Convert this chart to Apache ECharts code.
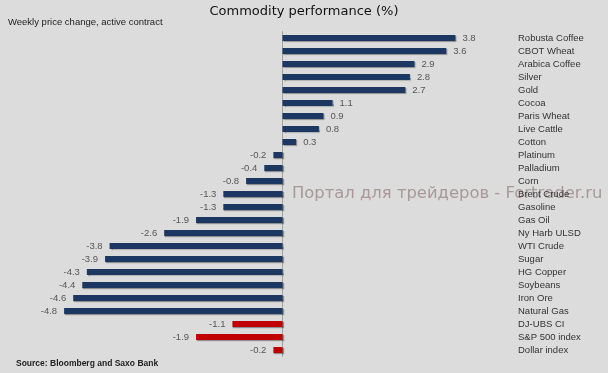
<!DOCTYPE html>
<html><head><meta charset="utf-8">
<script src="https://cdn.jsdelivr.net/npm/echarts@6/dist/echarts.min.js"></script>
<style>html,body{margin:0;padding:0;background:#dcdcdc}#c{width:608px;height:373px}</style>
</head><body><div id="c"></div>
<script>
const categories = ["Robusta Coffee","CBOT Wheat","Arabica Coffee","Silver","Gold","Cocoa","Paris Wheat","Live Cattle","Cotton","Platinum","Palladium","Corn","Brent Crude","Gasoline","Gas Oil","Ny Harb ULSD","WTI Crude","Sugar","HG Copper","Soybeans","Iron Ore","Natural Gas","DJ-UBS CI","S&P 500 index","Dollar index"];
const commodityValues = [3.8,3.6,2.9,2.8,2.7,1.1,0.9,0.8,0.3,-0.2,-0.4,-0.8,-1.3,-1.3,-1.9,-2.6,-3.8,-3.9,-4.3,-4.4,-4.6,-4.8,null,null,null];
const indexValues = [null,null,null,null,null,null,null,null,null,null,null,null,null,null,null,null,null,null,null,null,null,null,-1.1,-1.9,-0.2];

function toItems(arr){
  return arr.map(v => v == null ? '-' : {value: v, label: {position: v >= 0 ? 'right' : 'left'}});
}
const labelStyle = {show:true, formatter: p => Number(p.value).toFixed(1), color:'#555', fontFamily:'Liberation Sans', fontSize:9.5, distance:7};
const shadow = {shadowColor:'rgba(0,0,0,0.35)', shadowOffsetX:1, shadowOffsetY:1, shadowBlur:1};

const chart = echarts.init(document.getElementById('c'));
chart.setOption({
  backgroundColor:'#dcdcdc',
  animation:false,
  title:[
    {text:'Commodity performance (%)', left:'center', top:5, padding:0, textStyle:{fontFamily:'DejaVu Sans', fontSize:13, fontWeight:'normal', color:'#111'}},
    {text:'Weekly price change, active contract', left:8, top:17, padding:0, textStyle:{fontFamily:'Liberation Sans', fontSize:9.5, fontWeight:'normal', color:'#222'}},
    {text:'Source: Bloomberg and Saxo Bank', left:16, top:359, padding:0, textStyle:{fontFamily:'Liberation Sans', fontSize:8.5, fontWeight:'bold', color:'#222'}}
  ],
  graphic:[{type:'text', left:292, top:186, silent:true, style:{text:'Портал для трейдеров - Fortrader.ru', fontFamily:'DejaVu Sans', fontSize:16.4, fill:'#a89898'}}],
  grid:{left:55, top:31.5, width:455, height:325},
  xAxis:{type:'value', min:-5, max:5, show:false},
  yAxis:[
    {type:'category', data:categories, inverse:true, axisLine:{show:true, onZero:true, lineStyle:{color:'#a0a0a0', width:1}}, axisTick:{show:false}, axisLabel:{show:false}},
    {type:'category', data:categories, inverse:true, position:'right', axisLine:{show:false}, axisTick:{show:false},
     axisLabel:{interval:0, align:'left', margin:8, fontFamily:'Liberation Sans', fontSize:9.5, color:'#333'}}
  ],
  series:[
    {type:'bar', stack:'s', barWidth:6, data:toItems(commodityValues), itemStyle:Object.assign({color:'#1c3862'}, shadow), label:labelStyle},
    {type:'bar', stack:'s', barWidth:6, data:toItems(indexValues), itemStyle:Object.assign({color:'#c00000'}, shadow), label:labelStyle}
  ]
});
</script></body></html>
